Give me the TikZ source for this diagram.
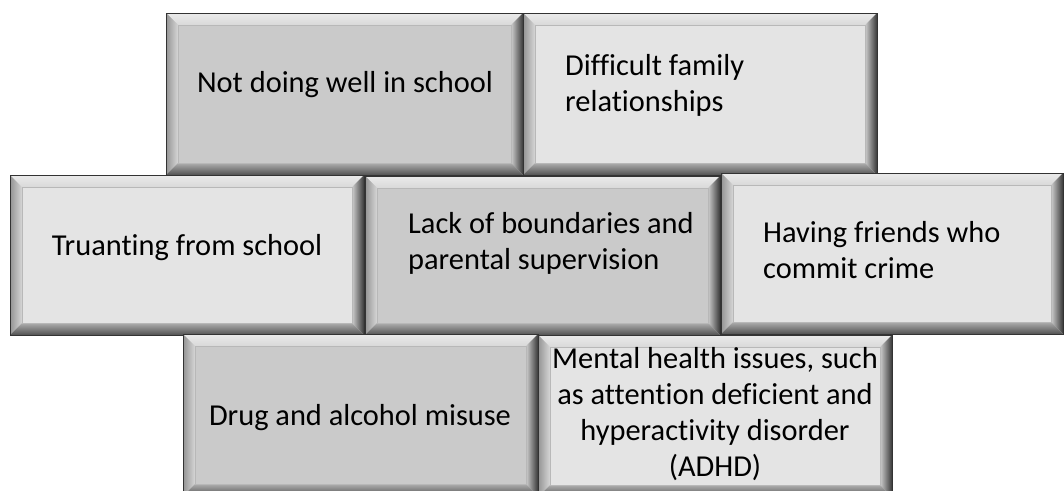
\documentclass[tikz,border=0pt]{standalone}
\usepackage{fontspec}
\setmainfont[Ligatures={NoCommon,NoContextual},Contextuals=NoAlternate]{Carlito}
\usetikzlibrary{fit}
\definecolor{dk}{HTML}{CACACA}
\definecolor{lt}{HTML}{E4E4E4}
\newcommand\lines[2]{\begin{tabular}[t]{@{}#1@{}}#2\end{tabular}}
\newcommand\brick[6]{%
  \fill[#6] (#2,#3) rectangle (#4,#5);
  \shade[top color=black!8, middle color=black!2, bottom color=black!15] (#2,#3) -- (#4,#3) -- (#4-12,#3+12) -- (#2+12,#3+12) -- cycle;
  \shade[left color=black!42, right color=black!16] (#2,#3) -- (#2+12,#3+12) -- (#2+12,#5-12) -- (#2,#5) -- cycle;
  \shade[left color=black!20, right color=black!78] (#4,#3) -- (#4,#5) -- (#4-12,#5-12) -- (#4-12,#3+12) -- cycle;
  \shade[top color=black!32, bottom color=black!68] (#2,#5) -- (#4,#5) -- (#4-12,#5-12) -- (#2+12,#5-12) -- cycle;
  \draw[black!28, line width=0.9pt, fill=#6] (#2+12,#3+12) rectangle (#4-12,#5-12);
  \node[brick, fit={(#2,#3) (#4,#5)}] (#1) {};
}
\tikzset{
  brick/.style={draw=black!80, line width=0.9pt, inner sep=0pt, outer sep=0pt},
  txt/.style={inner sep=0pt, font=\fontsize{30.4}{36.3}\selectfont, text=black},
}
\begin{document}
\begin{tikzpicture}[x=1pt, y=-1pt]
\useasboundingbox (0,0) rectangle (1064,490);
\clip (0,0) rectangle (1064,490);
\fill[white] (0,0) rectangle (1064,490);
% row 1
\brick{b1}{166}{13}{523}{175}{dk}
\brick{b2}{523}{13}{877}{175}{lt}
% row 2
\brick{b3}{10}{175}{364}{335}{lt}
\brick{b4}{365}{176}{720}{335}{dk}
\brick{b5}{721}{173}{1063}{334}{lt}
% row 3
\brick{b6}{183}{334}{538}{496}{dk}
\brick{b7}{538}{335}{892}{497}{lt}
% texts
\node[txt, anchor=base] (t1) at (345,92) {Not doing well in school};
\node[txt, anchor=base west] (t2) at (565,75) {\lines{l}{Difficult family\\relationships}};
\node[txt, anchor=base] (t3) at (187,255) {Truanting from school};
\node[txt, anchor=base west] (t4) at (408,233) {\lines{l}{Lack of boundaries and\\parental supervision}};
\node[txt, anchor=base west] (t5) at (763,242) {\lines{l}{Having friends who\\commit crime}};
\node[txt, anchor=base] (t6) at (360,425) {Drug and alcohol misuse};
\node[txt, anchor=base] (t7) at (715,368) {\lines{c}{Mental health issues, such\\as attention deficient and\\hyperactivity disorder\\(ADHD)}};
\end{tikzpicture}
\end{document}
